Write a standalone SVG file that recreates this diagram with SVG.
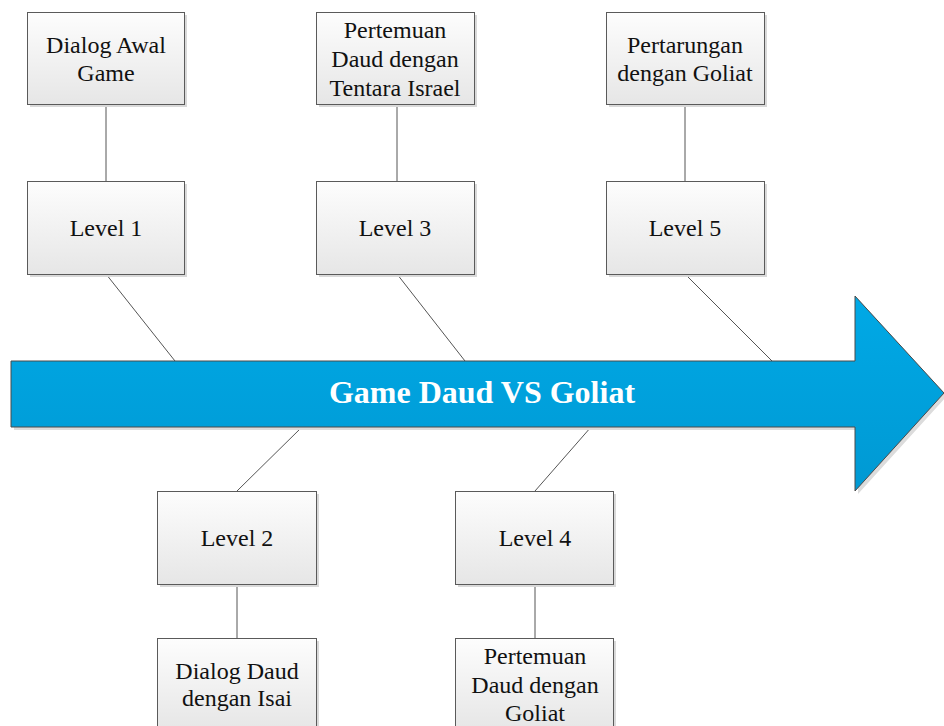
<svg xmlns="http://www.w3.org/2000/svg" width="944" height="726" viewBox="0 0 944 726">
<defs>
<linearGradient id="boxg" x1="0" y1="0" x2="0" y2="1">
<stop offset="0" stop-color="#fdfdfd"/>
<stop offset="1" stop-color="#e6e6e6"/>
</linearGradient>
<linearGradient id="arrg" x1="0" y1="0" x2="0" y2="1">
<stop offset="0" stop-color="#00a9e6"/>
<stop offset="1" stop-color="#0099d3"/>
</linearGradient>
</defs>
<style>
.box{fill:url(#boxg);stroke:#5a5a5a;stroke-width:1}
.sh{fill:#d9d9d9}
.t{font-family:'Times New Roman','Liberation Serif',Tinos,serif;font-size:24px;fill:#111;text-anchor:middle}
.c{stroke:#555;stroke-width:1;fill:none}
.title{font-family:'Times New Roman','Liberation Serif',Tinos,serif;font-size:32px;font-weight:bold;fill:#fff;text-anchor:middle}
</style>
<g id="connectors">
<line class="c" x1="106" y1="104" x2="106" y2="181"/>
<line class="c" x1="397" y1="104" x2="397" y2="181"/>
<line class="c" x1="685" y1="104" x2="685" y2="181"/>
<line class="c" x1="106" y1="274" x2="175" y2="361"/>
<line class="c" x1="397" y1="274" x2="465" y2="361"/>
<line class="c" x1="685" y1="274" x2="772" y2="361"/>
<line class="c" x1="302" y1="427" x2="237" y2="491"/>
<line class="c" x1="591" y1="427" x2="535" y2="491"/>
<line class="c" x1="237" y1="584" x2="237" y2="638"/>
<line class="c" x1="535" y1="584" x2="535" y2="638"/>
</g>
<g id="arrow">
<polygon points="14,364 858,364 858,299 947,396 858,494 858,430 14,430" fill="#dcdcdc"/>
<polygon points="11,361 855,361 855,296 944,393 855,491 855,427 11,427" fill="url(#arrg)" stroke="#4a4a4a" stroke-width="1"/>
<text class="title" x="482" y="403">Game Daud VS Goliat</text>
</g>
<g id="n_dialog_awal">
<rect class="sh" x="30" y="15" width="157" height="92"/>
<rect class="box" x="27.5" y="12.5" width="157" height="92"/>
<text class="t" x="106" y="53">Dialog Awal</text>
<text class="t" x="106" y="81">Game</text>
</g>
<g id="n_pertemuan_tentara">
<rect class="sh" x="319" y="15" width="158" height="92"/>
<rect class="box" x="316.5" y="12.5" width="158" height="92"/>
<text class="t" x="395" y="38">Pertemuan</text>
<text class="t" x="395" y="67">Daud dengan</text>
<text class="t" x="395" y="96">Tentara Israel</text>
</g>
<g id="n_pertarungan">
<rect class="sh" x="609" y="15" width="158" height="92"/>
<rect class="box" x="606.5" y="12.5" width="158" height="92"/>
<text class="t" x="685" y="53">Pertarungan</text>
<text class="t" x="685" y="81">dengan Goliat</text>
</g>
<g id="n_level1">
<rect class="sh" x="30" y="184" width="157" height="93"/>
<rect class="box" x="27.5" y="181.5" width="157" height="93"/>
<text class="t" x="106" y="236">Level 1</text>
</g>
<g id="n_level3">
<rect class="sh" x="319" y="184" width="158" height="93"/>
<rect class="box" x="316.5" y="181.5" width="158" height="93"/>
<text class="t" x="395" y="236">Level 3</text>
</g>
<g id="n_level5">
<rect class="sh" x="609" y="184" width="158" height="93"/>
<rect class="box" x="606.5" y="181.5" width="158" height="93"/>
<text class="t" x="685" y="236">Level 5</text>
</g>
<g id="n_level2">
<rect class="sh" x="160" y="494" width="159" height="93"/>
<rect class="box" x="157.5" y="491.5" width="159" height="93"/>
<text class="t" x="237" y="546">Level 2</text>
</g>
<g id="n_level4">
<rect class="sh" x="458" y="494" width="158" height="93"/>
<rect class="box" x="455.5" y="491.5" width="158" height="93"/>
<text class="t" x="535" y="546">Level 4</text>
</g>
<g id="n_dialog_isai">
<rect class="sh" x="160" y="641" width="159" height="92"/>
<rect class="box" x="157.5" y="638.5" width="159" height="92"/>
<text class="t" x="237" y="679">Dialog Daud</text>
<text class="t" x="237" y="706">dengan Isai</text>
</g>
<g id="n_pertemuan_goliat">
<rect class="sh" x="458" y="641" width="158" height="92"/>
<rect class="box" x="455.5" y="638.5" width="158" height="92"/>
<text class="t" x="535" y="664">Pertemuan</text>
<text class="t" x="535" y="693">Daud dengan</text>
<text class="t" x="535" y="721">Goliat</text>
</g>
</svg>
